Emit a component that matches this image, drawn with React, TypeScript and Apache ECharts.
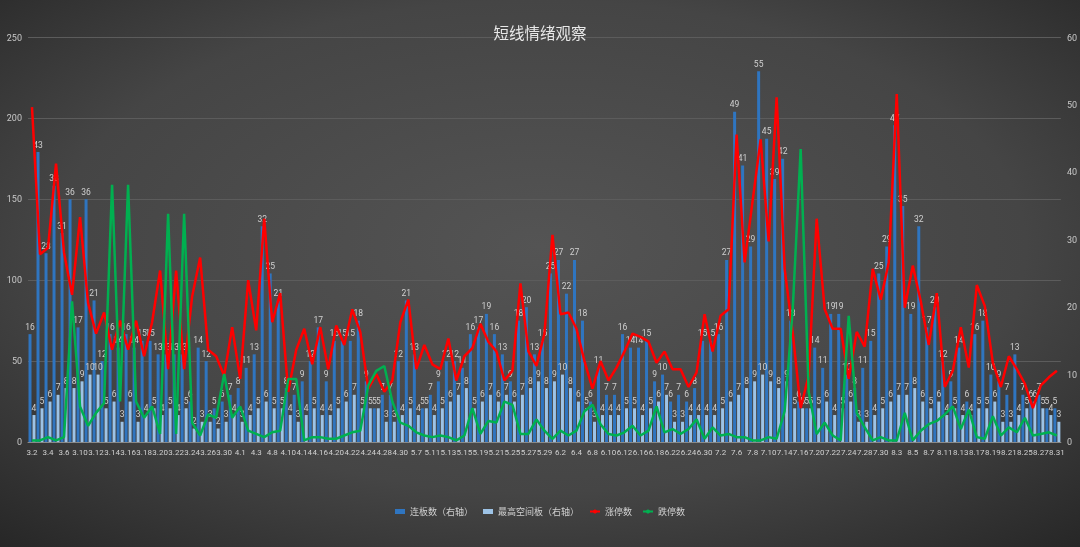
import React, { useEffect, useRef } from 'react';
import * as echarts from 'echarts';

const dates = [
  '3.2','3.3','3.4','3.5','3.6','3.9','3.10','3.11','3.12','3.13','3.14','3.15','3.16','3.17','3.18','3.19','3.20','3.21','3.22','3.23','3.24','3.25','3.26','3.27','3.30','3.31',
  '4.1','4.2','4.3','4.7','4.8','4.9','4.10','4.13','4.14','4.15','4.16','4.17','4.20','4.21','4.22','4.23','4.24','4.27','4.28','4.29','4.30',
  '5.6','5.7','5.8','5.11','5.12','5.13','5.14','5.15','5.18','5.19','5.20','5.21','5.22','5.25','5.26','5.27','5.28','5.29',
  '6.1','6.2','6.3','6.4','6.5','6.8','6.9','6.10','6.11','6.12','6.15','6.16','6.17','6.18','6.19','6.22','6.23','6.24','6.29','6.30',
  '7.1','7.2','7.3','7.6','7.7','7.8','7.9','7.10','7.13','7.14','7.15','7.16','7.17','7.20','7.21','7.22','7.23','7.24','7.27','7.28','7.29','7.30','7.31',
  '8.3','8.4','8.5','8.6','8.7','8.10','8.11','8.12','8.13','8.14','8.17','8.18','8.19','8.20','8.21','8.24','8.25','8.26','8.27','8.28','8.31'
];

// 连板数（右轴）
const lianban = [
  16,43,28,38,31,36,17,36,21,12,
  16,14,16,14,15,15,13,13,13,13,
  6,14,12,5,6,7,8,11,13,32,
  25,21,8,7,9,12,17,9,15,15,
  15,18,9,5,7,7,12,21,13,5,
  7,9,12,12,11,16,17,19,16,13,
  9,18,20,13,15,25,27,22,27,18,
  6,11,7,7,16,14,14,15,9,10,
  6,7,6,8,15,15,16,27,49,41,
  29,55,45,39,42,18,6,5,14,11,
  19,19,10,8,11,15,25,29,47,35,
  19,32,17,20,12,9,14,6,16,18,
  10,9,7,13,7,6,7,5,5
];

// 最高空间板（右轴）
const gaodu = [
  4,5,6,7,8,8,9,10,10,5,
  6,3,6,3,4,5,4,5,4,5,
  2,3,3,2,3,4,3,4,5,6,
  5,5,4,3,4,5,4,4,5,6,
  7,5,5,5,3,3,4,5,4,5,
  4,5,6,7,8,5,6,7,6,7,
  6,7,8,9,8,9,10,8,6,5,
  3,4,4,4,5,5,4,5,6,7,
  3,3,4,4,4,4,5,6,7,8,
  9,10,9,8,9,5,5,5,5,6,
  4,5,6,3,3,4,5,6,7,7,
  8,6,5,6,4,5,4,4,5,5,
  6,3,3,4,5,6,5,4,3
];

// 涨停数
const zhangting = [
  207,116,120,172,117,91,139,86,67,80,
  57,75,57,75,53,74,106,45,106,45,
  90,114,57,53,41,71,39,100,69,138,
  74,92,31,57,70,48,71,45,72,60,
  82,68,33,42,31,38,74,88,45,60,
  48,45,64,38,53,58,73,62,56,38,
  44,98,56,47,67,128,79,80,70,50,
  33,50,38,46,56,67,65,62,49,56,
  45,45,34,43,79,56,78,82,190,111,
  149,187,124,213,107,68,21,41,138,82,
  70,70,39,68,59,107,88,111,215,83,
  109,87,60,92,34,44,71,46,97,84,
  49,34,53,45,36,21,35,40,44
];

// 跌停数
const dieting = [
  1,1,3,1,3,87,22,10,18,24,
  159,25,159,25,15,22,5,141,5,141,
  12,4,17,15,42,15,22,7,5,3,
  6,7,39,39,1,3,3,2,2,4,
  6,7,35,44,47,25,12,10,6,4,
  3,4,3,1,4,21,5,13,12,25,
  23,5,5,14,7,2,7,4,7,19,
  23,11,5,4,6,10,4,7,22,6,
  8,5,8,14,2,9,4,5,3,3,
  1,1,3,2,19,81,181,31,5,12,
  4,1,78,18,9,1,3,1,1,18,
  1,7,11,13,17,22,8,20,3,2,
  16,4,9,6,15,4,5,6,4
];

const leftTicks = { min: 0, max: 250, interval: 50 };
const rightTicks = { min: 0, max: 60, interval: 10 };

export default function App() {
  const ref = useRef<HTMLDivElement>(null);
  useEffect(() => {
    const chart = echarts.init(ref.current as HTMLDivElement, null, { renderer: 'svg' });
    const font = '"Noto Sans CJK SC", "Noto Sans", sans-serif';
    const numFont = 'Roboto, "Noto Sans", sans-serif';
    const labelStyle = { show: true, position: 'top', distance: 3, fontSize: 8.5, color: '#d0d0d0', fontFamily: numFont };
    chart.setOption({
      animation: false,
      backgroundColor: {
        type: 'radial', x: 0.5, y: 0.45, r: 0.75,
        colorStops: [
          { offset: 0, color: '#545454' },
          { offset: 0.6, color: '#454545' },
          { offset: 1, color: '#262626' }
        ]
      },
      textStyle: { fontFamily: font },
      title: {
        text: '短线情绪观察', left: 'center', top: 19,
        textStyle: { color: '#e8e8e8', fontSize: 15.5, fontWeight: 'normal', fontFamily: font }
      },
      legend: {
        bottom: 26, left: 'center', itemWidth: 10, itemHeight: 5, itemGap: 10,
        textStyle: { color: '#d0d0d0', fontSize: 9, fontFamily: font },
        data: [
          { name: '连板数（右轴）', icon: 'rect' },
          { name: '最高空间板（右轴）', icon: 'rect' },
          { name: '涨停数' },
          { name: '跌停数' }
        ]
      },
      grid: { left: 28, right: 18, top: 37.5, bottom: 105 },
      xAxis: {
        type: 'category', data: dates, boundaryGap: true,
        axisLine: { lineStyle: { color: '#8a8a8a', width: 1 } },
        axisTick: { show: false },
        axisLabel: {
          interval: 0, color: '#d0d0d0', fontSize: 8, margin: 6, fontFamily: numFont,
          hideOverlap: false,
          formatter: (v: string, i: number) => (i % 2 === 0 ? v : '')
        }
      },
      yAxis: [
        {
          type: 'value', position: 'left', ...leftTicks,
          axisLine: { show: false }, axisTick: { show: false },
          axisLabel: { color: '#c8c8c8', fontSize: 9, margin: 6, fontFamily: numFont },
          splitLine: { lineStyle: { color: '#5c5c5c', width: 1 } }
        },
        {
          type: 'value', position: 'right', ...rightTicks,
          axisLine: { show: false }, axisTick: { show: false },
          axisLabel: { color: '#c8c8c8', fontSize: 9, margin: 6, fontFamily: numFont },
          splitLine: { show: false }
        }
      ],
      series: [
        {
          name: '连板数（右轴）', type: 'bar', yAxisIndex: 1, data: lianban,
          barWidth: 3, barGap: '33%',
          itemStyle: { color: '#2f75c0' },
          label: labelStyle
        },
        {
          name: '最高空间板（右轴）', type: 'bar', yAxisIndex: 1, data: gaodu,
          barWidth: 3,
          itemStyle: { color: '#9dc3e6' },
          label: labelStyle
        },
        {
          name: '涨停数', type: 'line', yAxisIndex: 0, data: zhangting,
          symbol: 'none', lineStyle: { color: '#ff0000', width: 2.5 }, itemStyle: { color: '#ff0000' }
        },
        {
          name: '跌停数', type: 'line', yAxisIndex: 0, data: dieting,
          symbol: 'none', lineStyle: { color: '#00b050', width: 2.5 }, itemStyle: { color: '#00b050' }
        }
      ]
    });
    return () => chart.dispose();
  }, []);
  return <div ref={ref} style={{ position: 'fixed', left: 0, top: 0, width: 1080, height: 547 }} />;
}
